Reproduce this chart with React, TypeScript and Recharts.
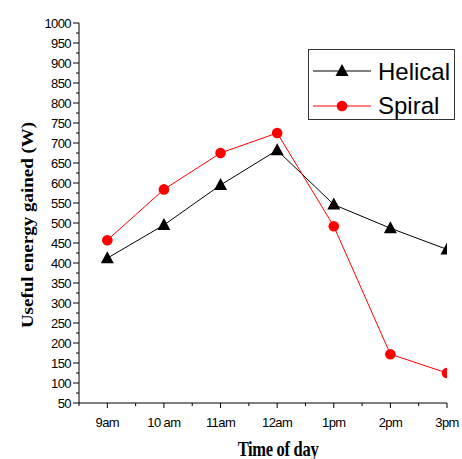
import React from 'react';
import { LineChart, Line, XAxis, YAxis } from 'recharts';

const categories = ['9am', '10 am', '11am', '12am', '1pm', '2pm', '3pm'];
const helical = [412, 495, 595, 682, 546, 487, 434];
const spiral = [457, 584, 675, 725, 492, 172, 125];

const xTicks: number[] = [];
for (let i = -0.5; i <= 6.001; i += 0.5) xTicks.push(Math.round(i * 10) / 10);
const yTicks: number[] = [];
for (let v = 50; v <= 1000; v += 25) yTicks.push(v);

const data = categories.map((c, i) => ({ x: i, label: c, helical: helical[i], spiral: spiral[i] }));

const SANS = '"Liberation Sans", Arial, sans-serif';
const SERIF = '"Liberation Serif", "Times New Roman", serif';

const XTick = (props: any) => {
  const { x, y, payload } = props;
  const v = payload.value;
  const major = Number.isInteger(v);
  const label = major ? categories[v] : '';
  return (
    <g>
      <line x1={x} x2={x} y1={y} y2={y + (major ? 5 : 3)} stroke="#000" strokeWidth={1} />
      {label ? (
        <text x={x} y={y + 24} textAnchor="middle" fontFamily={SANS} fontSize={13} letterSpacing={-0.6} fill="#000">
          {label}
        </text>
      ) : null}
    </g>
  );
};

const YTick = (props: any) => {
  const { x, y, payload } = props;
  const v = payload.value;
  const major = v % 50 === 0;
  return (
    <g>
      <line x1={x - (major ? 6 : 3)} x2={x} y1={y} y2={y} stroke="#000" strokeWidth={1} />
      {major ? (
        <text x={x - 8} y={y + 4.5} textAnchor="end" fontFamily={SANS} fontSize={13} letterSpacing={-0.6} fill="#000">
          {v}
        </text>
      ) : null}
    </g>
  );
};

const Triangle = (props: any) => {
  const { cx, cy, index } = props;
  if (cx == null || cy == null) return <g key={index} />;
  return <path key={index} d={`M${cx},${cy - 7} L${cx + 6.5},${cy + 5} L${cx - 6.5},${cy + 5} Z`} fill="#000" />;
};

const Circle = (props: any) => {
  const { cx, cy, index } = props;
  if (cx == null || cy == null) return <g key={index} />;
  return <circle key={index} cx={cx} cy={cy} r={5.3} fill="#ff0000" />;
};

const LegendBox = () => (
  <div
    style={{
      position: 'absolute',
      left: 308,
      top: 49,
      width: 147,
      height: 71,
      border: '1px solid #333',
      boxSizing: 'border-box',
      background: '#fff',
    }}
  >
    <svg width={145} height={69} style={{ display: 'block' }}>
      <line x1={4} x2={62} y1={21} y2={21} stroke="#000" strokeWidth={1} />
      <path d={`M33,14 L39.5,26 L26.5,26 Z`} fill="#000" />
      <text x={69} y={30} fontFamily={SANS} fontSize={24} fill="#000">Helical</text>
      <line x1={4} x2={62} y1={56} y2={56} stroke="#ff0000" strokeWidth={1} />
      <circle cx={33} cy={56} r={5.3} fill="#ff0000" />
      <text x={69} y={64} fontFamily={SANS} fontSize={24} fill="#000">Spiral</text>
    </svg>
  </div>
);

export default function App() {
  return (
    <div style={{ position: 'absolute', left: 0, top: 0, width: 462, height: 459, background: '#fff' }}>
      <LineChart width={462} height={459} data={data} margin={{ top: 23, right: 15, bottom: 0, left: 0 }}>
        <XAxis
          dataKey="x"
          type="number"
          domain={[-0.5, 6]}
          ticks={xTicks}
          interval={0}
          allowDataOverflow
          height={56}
          tickSize={0}
          tickMargin={0}
          tickLine={false}
          axisLine={{ stroke: '#000', strokeWidth: 1 }}
          tick={<XTick />}
        />
        <YAxis
          type="number"
          domain={[50, 1000]}
          ticks={yTicks}
          interval={0}
          allowDataOverflow
          width={79}
          tickSize={0}
          tickMargin={0}
          tickLine={false}
          axisLine={{ stroke: '#000', strokeWidth: 1 }}
          tick={<YTick />}
        />
        <Line
          type="linear"
          dataKey="helical"
          name="Helical"
          stroke="#000"
          strokeWidth={1}
          dot={<Triangle />}
          activeDot={false}
          isAnimationActive={false}
        />
        <Line
          type="linear"
          dataKey="spiral"
          name="Spiral"
          stroke="#ff0000"
          strokeWidth={1}
          dot={<Circle />}
          activeDot={false}
          isAnimationActive={false}
        />
        <text
          x={0}
          y={0}
          transform="translate(278,456) scale(1,1.3)"
          textAnchor="middle"
          fontFamily={SERIF}
          fontWeight="bold"
          fontSize={16.5}
          letterSpacing={-0.3}
          fill="#000"
        >
          Time of day
        </text>
        <text
          x={0}
          y={0}
          transform="translate(33,225) rotate(-90) scale(1,0.85)"
          textAnchor="middle"
          fontFamily={SERIF}
          fontWeight="bold"
          fontSize={19}
          fill="#000"
        >
          Useful energy gained (W)
        </text>
      </LineChart>
      <LegendBox />
    </div>
  );
}
